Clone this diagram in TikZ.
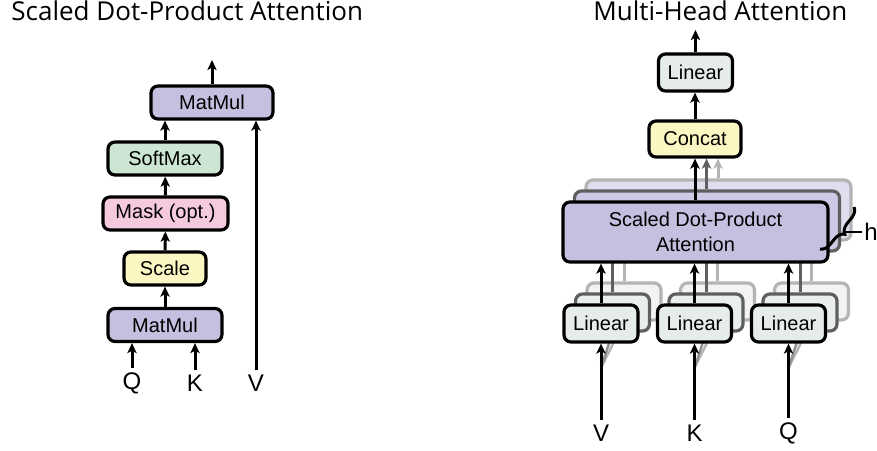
\documentclass[tikz,border=0pt]{standalone}
\usepackage{fontspec}
\setmainfont{Liberation Sans}
\newfontfamily\titlefont{Open Sans}
\usetikzlibrary{arrows.meta,decorations.pathreplacing}

\definecolor{matmulc}{RGB}{198,191,223}
\definecolor{softmaxc}{RGB}{205,230,211}
\definecolor{maskc}{RGB}{246,202,222}
\definecolor{scalec}{RGB}{252,246,194}
\definecolor{linearc}{RGB}{229,236,233}
\definecolor{darkc}{RGB}{95,95,95}
\definecolor{lightc}{RGB}{180,180,180}
\definecolor{sdpatwo}{RGB}{206,201,229}
\definecolor{sdpathree}{RGB}{224,221,238}
\definecolor{lintwo}{RGB}{234,239,237}
\definecolor{linthree}{RGB}{241,244,243}

\tikzset{
  opbox/.style={draw=black, line width=1.6pt, rounded corners=3.5pt, inner sep=0pt,
    align=center, font=\fontsize{10}{12.5}\selectfont},
  linbox/.style={opbox, fill=linearc, minimum width=37pt, minimum height=18.5pt},
  sdpabox/.style={opbox, fill=matmulc, minimum width=132.5pt, minimum height=30pt},
  arr/.style={-{Stealth[length=5pt,width=4.6pt,inset=1.2pt]}, line width=1.5pt},
  lbl/.style={font=\fontsize{12}{14}\selectfont, inner sep=2pt},
  title/.style={font=\titlefont\fontsize{13}{15}\selectfont, inner sep=0pt}
}

\begin{document}
\begin{tikzpicture}[x=0.5pt,y=-0.5pt]
  \useasboundingbox (0,0) rectangle (877,450);
  % titles
  \node[title, anchor=base west] (ttl) at (11,20) {Scaled Dot-Product Attention};
  \node[title, anchor=base west] (ttr) at (593,20) {Multi-Head Attention};

  % scaled dot-product attention
  \node[opbox, fill=matmulc, minimum width=61pt, minimum height=16.5pt] (mmtop) at (212,102.5) {MatMul};
  \node[opbox, fill=softmaxc, minimum width=57pt, minimum height=16.5pt] (soft) at (165,158.5) {SoftMax};
  \node[opbox, fill=maskc, minimum width=62.5pt, minimum height=16.5pt] (mask) at (165.5,213.5) {Mask (opt.)};
  \node[opbox, fill=scalec, minimum width=41pt, minimum height=16.5pt] (scl) at (165,268.5) {Scale};
  \node[opbox, fill=matmulc, minimum width=57pt, minimum height=16.5pt] (mmbot) at (165,325) {MatMul};
  \node[lbl] (lq) at (132,383) {Q};
  \node[lbl] (lk) at (195,383) {K};
  \node[lbl] (lv) at (256,383) {V};
  \coordinate (outl) at (212,60);
  \draw[arr] (lq.north) -- (lq.north |- mmbot.south);
  \draw[arr] (lk.north) -- (lk.north |- mmbot.south);
  \draw[arr] (lv.north) -- (lv.north |- mmtop.south);
  \draw[arr] (mmbot) -- (scl);
  \draw[arr] (scl) -- (mask);
  \draw[arr] (mask) -- (soft);
  \draw[arr] (soft.north) -- (soft.north |- mmtop.south);
  \draw[arr] (mmtop) -- (outl);

  % multi-head attention
  \node[linbox] (lintop) at (695.5,72.5) {Linear};
  \node[opbox, fill=scalec, minimum width=46pt, minimum height=18pt] (concat) at (695,139) {Concat};
  \coordinate (outr) at (695.5,30);
  \draw[arr] (lintop) -- (outr);
  \draw[arr] (concat.north) -- (concat.north |- lintop.south);

  % third head (back)
  \begin{scope}[shift={(23,-22)}]
    \node[sdpabox, draw=lightc, fill=sdpathree] (sdpa3) at (695.5,232) {};
    \node[linbox, draw=lightc, fill=linthree] (linv3) at (601,323.5) {};
    \node[linbox, draw=lightc, fill=linthree] (link3) at (694.5,323.5) {};
    \node[linbox, draw=lightc, fill=linthree] (linq3) at (788.5,323.5) {};
    \draw[arr, lightc] (linv3.north) -- (linv3.north |- sdpa3.south);
    \draw[arr, lightc] (link3.north) -- (link3.north |- sdpa3.south);
    \draw[arr, lightc] (linq3.north) -- (linq3.north |- sdpa3.south);
    \draw[arr, lightc] (sdpa3.north -| concat.center) ++(23,0) coordinate (up3) -- (up3 |- concat.south);
  \end{scope}
  % second head
  \begin{scope}[shift={(11.5,-11)}]
    \node[sdpabox, draw=darkc, fill=sdpatwo] (sdpa2) at (695.5,232) {};
    \node[linbox, draw=darkc, fill=lintwo] (linv2) at (601,323.5) {};
    \node[linbox, draw=darkc, fill=lintwo] (link2) at (694.5,323.5) {};
    \node[linbox, draw=darkc, fill=lintwo] (linq2) at (788.5,323.5) {};
    \draw[arr, darkc] (linv2.north) -- (linv2.north |- sdpa2.south);
    \draw[arr, darkc] (link2.north) -- (link2.north |- sdpa2.south);
    \draw[arr, darkc] (linq2.north) -- (linq2.north |- sdpa2.south);
    \draw[arr, darkc] (sdpa2.north -| concat.center) ++(11.5,0) coordinate (up2) -- (up2 |- concat.south);
  \end{scope}

  % inputs fanning out to the heads
  \coordinate (forkv) at (601,368);
  \coordinate (forkk) at (694.5,368);
  \coordinate (forkq) at (788.5,368);
  \draw[line width=1.2pt, lightc] (forkv) -- (linv3.south) (forkk) -- (link3.south) (forkq) -- (linq3.south);
  \draw[line width=1.2pt, darkc!70] (forkv) -- (linv2.south) (forkk) -- (link2.south) (forkq) -- (linq2.south);

  % first head (front)
  \node[sdpabox] (sdpa) at (695.5,232) {Scaled Dot-Product\\Attention};
  \node[linbox] (linv) at (601,323.5) {Linear};
  \node[linbox] (link) at (694.5,323.5) {Linear};
  \node[linbox] (linq) at (788.5,323.5) {Linear};
  \node[lbl] (rv) at (601,433) {V};
  \node[lbl] (rk) at (694.5,433) {K};
  \node[lbl] (rq) at (788.5,433) {Q};
  \draw[arr] (rv.north) -- (linv.south);
  \draw[arr] (rk.north) -- (link.south);
  \draw[arr] (rq.north) -- (linq.south);
  \draw[arr] (linv.north) -- (linv.north |- sdpa.south);
  \draw[arr] (link.north) -- (link.north |- sdpa.south);
  \draw[arr] (linq.north) -- (linq.north |- sdpa.south);
  \draw[arr] (sdpa.north -| concat.center) -- (concat.south);

  % h heads
  \coordinate (bra) at (854,207);
  \coordinate (brb) at (820,249);
  \draw[line width=1.5pt, decorate, decoration={brace, amplitude=5pt}] (bra) -- (brb);
  \coordinate (btip) at (845,232);
  \node[lbl, anchor=west, inner sep=1pt] (hl) at (862,232) {h};
  \draw[line width=1pt] (btip) -- (hl.west);
\end{tikzpicture}
\end{document}
